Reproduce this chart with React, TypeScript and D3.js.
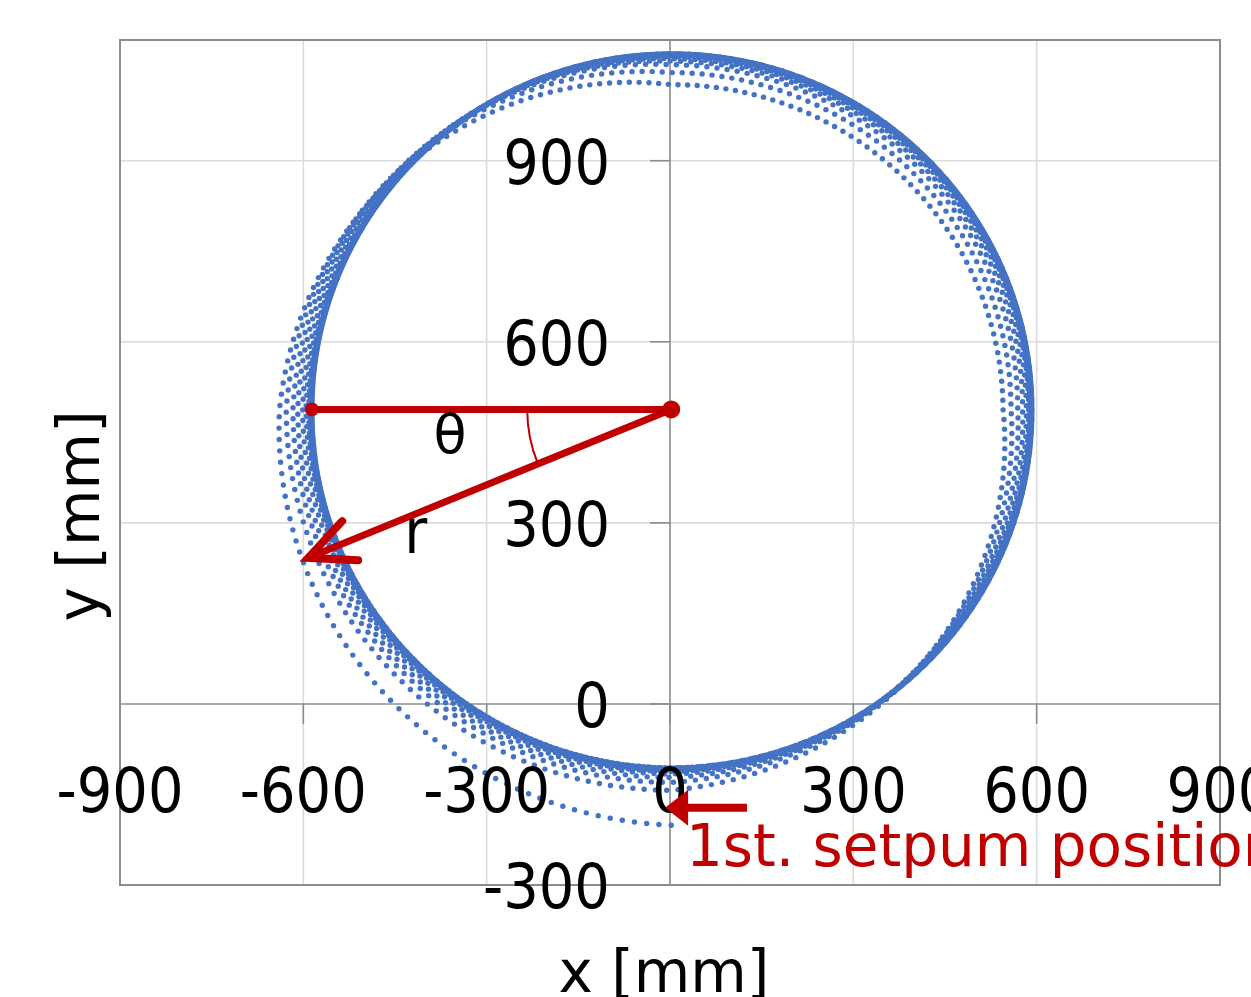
import React, { useMemo } from "react";
import * as d3 from "d3";

// ---- axes ----
const xDomain: [number, number] = [-900, 900];
const yDomain: [number, number] = [-300, 1100];
const xTicks = [-900, -600, -300, 0, 300, 600, 900];
const yTicks = [-300, 0, 300, 600, 900];
const xGrid = [-600, -300, 300, 600];
const yGrid = [300, 600, 900];

// ---- trajectory: distance (mm) from the pivot read at each quarter turn, per loop ----
const pivot: [number, number] = [2, 488];
const radiusBottom = [689, 631, 618, 610, 604, 600, 598, 597, 596, 596, 595, 595, 595, 594, 594, 594];
const radiusLeft = [641, 630, 619, 611, 603, 597, 593, 591, 590, 589, 589, 588, 588, 588, 588, 588];
const radiusTop = [538, 558, 571, 577, 581, 584, 586, 587, 588, 588, 589, 589, 589, 589, 589, 589];
const radiusRight = [543, 556, 567, 575, 581, 585, 587, 588, 589, 589, 590, 590, 590, 590, 590, 590];
const radiusEnd = 594;
const pointsPerLoop = 214.6;

// ---- annotations (mm) ----
const leftEnd: [number, number] = [-586, 488];
const arrowTip: [number, number] = [-592, 242];
const thetaLabel: [number, number] = [-360, 416];
const rLabel: [number, number] = [-416, 250];
const startArrowTail: [number, number] = [126, -172];
const startArrowTip: [number, number] = [-8, -172];
const startLabel: [number, number] = [26, -269];
const startText = "1st. setpum position";

const W = 1251;
const H = 997;
const plot = { left: 120, right: 1220, top: 40, bottom: 885 };
const RED = "#C00000";
const BLUE = "#4472C4";
const FONT = "DejaVu Sans";

export default function App() {
  const x = d3.scaleLinear().domain(xDomain).range([plot.left, plot.right]);
  const y = d3.scaleLinear().domain(yDomain).range([plot.bottom, plot.top]);

  const points = useMemo(() => {
    const keys: number[] = [];
    for (let i = 0; i < radiusBottom.length; i++) {
      keys.push(radiusBottom[i], radiusLeft[i], radiusTop[i], radiusRight[i]);
    }
    keys.push(radiusEnd);
    const pts: [number, number][] = [];
    const quarters = keys.length - 1;
    const dq = 4 / pointsPerLoop;
    for (let t = 0; t <= quarters; t += dq) {
      const q = Math.min(Math.floor(t), quarters - 1);
      const f = t - q;
      const r = keys[q] * (1 - f) + keys[q + 1] * f;
      const phi = -Math.PI / 2 - (Math.PI / 2) * t;
      pts.push([pivot[0] + r * Math.cos(phi), pivot[1] + r * Math.sin(phi)]);
    }
    return pts;
  }, []);

  const px = (p: [number, number]) => [x(p[0]), y(p[1])] as [number, number];
  const P = px(pivot);
  const L = px(leftEnd);
  const T = px(arrowTip);

  // arrow head for r
  const dx = P[0] - T[0];
  const dy = P[1] - T[1];
  const ang = Math.atan2(dy, dx);
  const headLen = 50;
  const a1 = ang - (25 * Math.PI) / 180;
  const a2 = ang + (25 * Math.PI) / 180;
  const h1 = [T[0] + headLen * Math.cos(a1), T[1] + headLen * Math.sin(a1)];
  const h2 = [T[0] + headLen * Math.cos(a2), T[1] + headLen * Math.sin(a2)];

  // theta arc
  const arcR = 144;
  const dirAng = Math.atan2(T[1] - P[1], T[0] - P[0]);
  const arcStart = [P[0] - arcR, P[1]];
  const arcEnd = [P[0] + arcR * Math.cos(dirAng), P[1] + arcR * Math.sin(dirAng)];

  // start arrow
  const SA0 = px(startArrowTail);
  const SA1 = px(startArrowTip);
  const headBack = SA1[0] + 23;

  const labelStretch = 1.12;

  return (
    <svg
      width={W}
      height={H}
      style={{ position: "absolute", left: 0, top: 0, overflow: "hidden", background: "#fff" }}
    >
      <rect x={0} y={0} width={W} height={H} fill="#fff" />
      {/* grid */}
      {xGrid.map((v) => (
        <line key={"gx" + v} x1={x(v)} x2={x(v)} y1={plot.top} y2={plot.bottom} stroke="#dcdcdc" strokeWidth={1.6} />
      ))}
      {yGrid.map((v) => (
        <line key={"gy" + v} x1={plot.left} x2={plot.right} y1={y(v)} y2={y(v)} stroke="#dcdcdc" strokeWidth={1.6} />
      ))}
      {/* axes through zero */}
      <line x1={x(0)} x2={x(0)} y1={plot.top} y2={plot.bottom} stroke="#8c8c8c" strokeWidth={1.6} />
      <line x1={plot.left} x2={plot.right} y1={y(0)} y2={y(0)} stroke="#8c8c8c" strokeWidth={1.6} />
      {xTicks.map((v) => (
        <line key={"tx" + v} x1={x(v)} x2={x(v)} y1={y(0)} y2={y(0) + 20} stroke="#8c8c8c" strokeWidth={1.6} />
      ))}
      {yTicks.map((v) => (
        <line key={"ty" + v} x1={x(0) - 20} x2={x(0)} y1={y(v)} y2={y(v)} stroke="#8c8c8c" strokeWidth={1.6} />
      ))}
      {/* frame */}
      <rect
        x={plot.left}
        y={plot.top}
        width={plot.right - plot.left}
        height={plot.bottom - plot.top}
        fill="none"
        stroke="#8c8c8c"
        strokeWidth={2}
      />
      {/* trajectory dots */}
      <g fill={BLUE}>
        {points.map((p, i) => (
          <circle key={i} cx={x(p[0])} cy={y(p[1])} r={2.7} />
        ))}
      </g>
      {/* tick labels */}
      <g fontFamily={FONT} fontSize={56} fill="#000">
        {xTicks.map((v) => (
          <text key={"lx" + v} transform={`translate(${x(v)},${812}) scale(1,${labelStretch})`} textAnchor="middle">
            {v}
          </text>
        ))}
        {yTicks.map((v) => (
          <text
            key={"ly" + v}
            transform={`translate(${x(0) - 60},${y(v) + 23}) scale(1,${labelStretch})`}
            textAnchor="end"
          >
            {v}
          </text>
        ))}
      </g>
      {/* axis titles */}
      <text x={664} y={992} textAnchor="middle" fontFamily={FONT} fontSize={58} fill="#000">
        x [mm]
      </text>
      <text
        transform={`translate(99,516) rotate(-90)`}
        textAnchor="middle"
        fontFamily={FONT}
        fontSize={58}
        fill="#000"
      >
        y [mm]
      </text>
      {/* red annotations */}
      <line x1={L[0]} y1={L[1]} x2={P[0]} y2={P[1]} stroke={RED} strokeWidth={7} />
      <circle cx={L[0]} cy={L[1]} r={7} fill={RED} />
      <circle cx={P[0]} cy={P[1]} r={9} fill={RED} />
      <line x1={P[0]} y1={P[1]} x2={T[0]} y2={T[1]} stroke={RED} strokeWidth={7} />
      <polyline
        points={`${h1[0]},${h1[1]} ${T[0]},${T[1]} ${h2[0]},${h2[1]}`}
        fill="none"
        stroke={RED}
        strokeWidth={8}
        strokeLinecap="round"
        strokeLinejoin="miter"
      />
      <path
        d={`M${arcStart[0]},${arcStart[1]} A${arcR},${arcR} 0 0 0 ${arcEnd[0]},${arcEnd[1]}`}
        fill="none"
        stroke={RED}
        strokeWidth={2}
      />
      <text x={x(thetaLabel[0])} y={y(thetaLabel[1])} textAnchor="middle" fontFamily={FONT} fontSize={54} fill="#000">
        θ
      </text>
      <text
        transform={`translate(${x(rLabel[0])},${y(rLabel[1])}) scale(1,${labelStretch})`}
        textAnchor="middle"
        fontFamily={FONT}
        fontSize={56}
        fill="#000"
      >
        r
      </text>
      {/* start arrow */}
      <line x1={SA0[0]} y1={SA0[1]} x2={headBack - 2} y2={SA1[1]} stroke={RED} strokeWidth={8} />
      <polygon
        points={`${SA1[0]},${SA1[1]} ${headBack},${SA1[1] - 18} ${headBack},${SA1[1] + 18}`}
        fill={RED}
      />
      <text x={x(startLabel[0])} y={y(startLabel[1])} fontFamily={FONT} fontSize={58} fill={RED}>
        {startText}
      </text>
    </svg>
  );
}
